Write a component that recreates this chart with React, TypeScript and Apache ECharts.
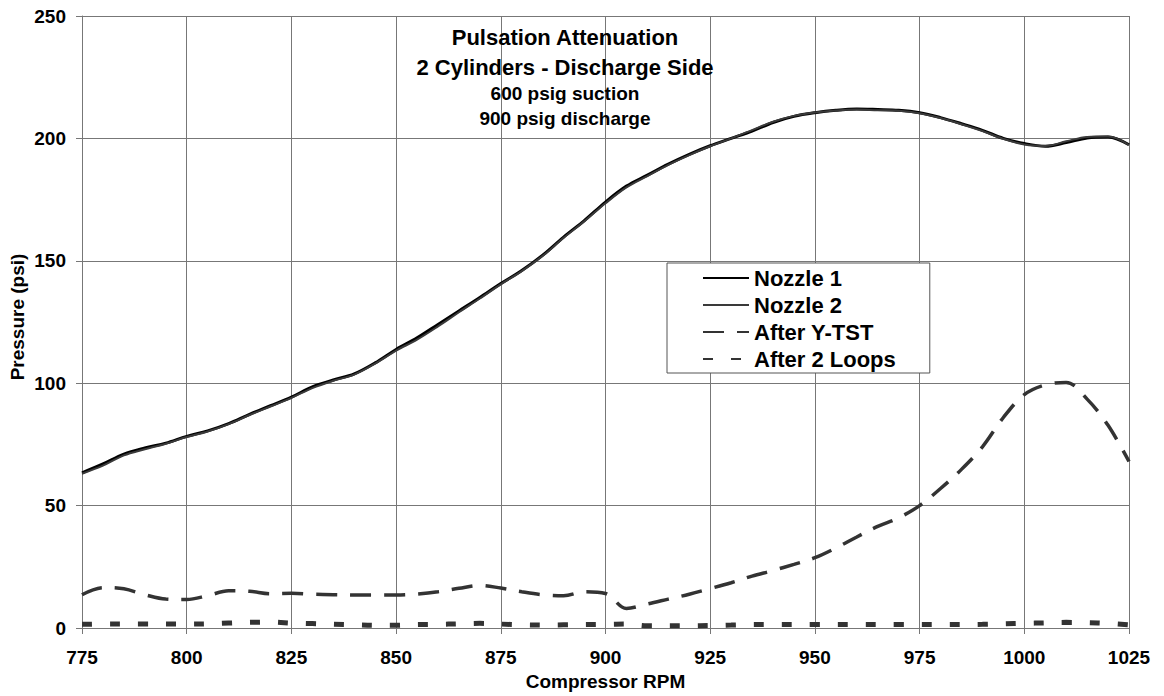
import React, { useEffect, useRef } from "react";
import * as echarts from "echarts";

const rpm = [775, 780, 785, 790, 795, 800, 805, 810, 815, 820, 825, 830, 835, 840, 845, 850, 855, 860, 865, 870, 875, 880, 885, 890, 895, 900, 905, 910, 915, 920, 925, 930, 935, 940, 945, 950, 955, 960, 965, 970, 975, 980, 985, 990, 995, 1000, 1005, 1010, 1015, 1020, 1025];

const nozzle1 = [63.4, 67, 71, 73.5, 75.5, 78.3, 80.5, 83.5, 87.3, 90.8, 94.3, 98.5, 101.3, 103.8, 108.3, 113.8, 118.5, 124, 129.5, 135, 140.7, 146, 152.3, 159.7, 166.5, 174, 180.5, 185, 189.5, 193.5, 197, 200, 203, 206.5, 209, 210.5, 211.5, 212, 211.8, 211.5, 210.5, 208.5, 206, 203.3, 200, 197.9, 196.8, 198.3, 200.2, 200.6, 197.4];

const nozzle2 = [63.0, 66.3, 70.5, 73.0, 75.3, 78.0, 80.3, 83.3, 87.0, 90.5, 94.0, 98.0, 101.0, 103.5, 108.0, 113.3, 117.8, 123.2, 129.0, 134.6, 140.4, 145.8, 152.0, 159.4, 166.2, 173.5, 180.0, 184.6, 189.2, 193.2, 196.8, 200.0, 203.4, 206.8, 209.2, 210.6, 211.4, 211.8, 211.5, 211.3, 210.3, 208.3, 205.8, 203.0, 199.8, 197.5, 196.9, 198.8, 200.6, 200.8, 197.3];

const afterYTST = [13.6, 16.5, 16, 13.6, 11.8, 11.6, 13.2, 15.2, 15, 14, 14.2, 13.8, 13.6, 13.5, 13.5, 13.5, 13.9, 14.8, 16.2, 17.4, 16.3, 14.8, 13.6, 13.2, 14.8, 14.1, 8.0, 9.8, 11.8, 13.8, 16.1, 18.5, 21.2, 23.5, 26, 28.7, 32.7, 37.2, 41.5, 45, 50, 57, 64.8, 74, 86, 95.3, 99.3, 100.3, 93.5, 82.8, 68];

const after2Loops = [1.5, 1.6, 1.6, 1.6, 1.6, 1.6, 1.7, 2.0, 2.3, 2.4, 2.0, 1.8, 1.5, 1.3, 1.1, 1.1, 1.4, 1.5, 1.7, 1.9, 1.6, 1.3, 1.2, 1.3, 1.4, 1.5, 1.6, 0.9, 0.9, 0.9, 1.0, 1.2, 1.4, 1.4, 1.4, 1.4, 1.4, 1.4, 1.4, 1.4, 1.4, 1.4, 1.4, 1.5, 1.7, 1.9, 2.1, 2.3, 2.2, 1.9, 1.3];

const seriesNames = ["Nozzle 1", "Nozzle 2", "After Y-TST", "After 2 Loops"];
const titleLines = ["Pulsation Attenuation", "2 Cylinders - Discharge Side", "600 psig suction", "900 psig discharge"];
const xTitle = "Compressor RPM";
const yTitle = "Pressure (psi)";

const FONT = "'Liberation Sans', Arial, sans-serif";

const pairs = (vals: number[]) => rpm.map((r, i) => [r, vals[i]]);

export default function App() {
  const ref = useRef<HTMLDivElement>(null);
  useEffect(() => {
    if (!ref.current) return;
    const chart = echarts.init(ref.current, undefined, { renderer: "svg" });
    const lineCommon = {
      type: "line",
      showSymbol: false,
      symbol: "none",
      smooth: 0.35,
    };
    chart.setOption({
      animation: false,
      backgroundColor: "#fff",
      grid: { left: 82, right: 35, top: 16, bottom: 66, containLabel: false },
      xAxis: {
        type: "value",
        min: 775,
        max: 1025,
        interval: 25,
        name: xTitle,
        nameLocation: "middle",
        nameGap: 44,
        nameTextStyle: { fontFamily: FONT, fontWeight: "bold", fontSize: 19, color: "#000" },
        axisLine: { show: true, lineStyle: { color: "#777", width: 1 } },
        axisTick: { show: true, length: 6, lineStyle: { color: "#777" } },
        axisLabel: {
          margin: 20,
          fontFamily: FONT,
          fontWeight: "bold",
          fontSize: 19,
          color: "#000",
          formatter: (v: number) => String(v),
        },
        splitLine: { show: true, lineStyle: { color: "#777", width: 1 } },
      },
      yAxis: {
        type: "value",
        min: 0,
        max: 250,
        interval: 50,
        axisLine: { show: true, lineStyle: { color: "#777", width: 1 } },
        axisTick: { show: true, length: 6, lineStyle: { color: "#777" } },
        axisLabel: {
          margin: 16,
          fontFamily: FONT,
          fontWeight: "bold",
          fontSize: 19,
          color: "#000",
          formatter: (v: number) => String(v),
        },
        splitLine: { show: true, lineStyle: { color: "#777", width: 1 } },
      },
      legend: {
        show: true,
        orient: "vertical",
        left: 667,
        top: 263,
        padding: [4, 34, 3, 35],
        itemGap: 5,
        itemWidth: 46,
        itemHeight: 14,
        backgroundColor: "#fff",
        borderColor: "#555",
        borderWidth: 1,
        borderRadius: 0,
        itemStyle: { opacity: 0 },
        textStyle: { fontFamily: FONT, fontWeight: "bold", fontSize: 22, color: "#000", lineHeight: 22 },
        data: seriesNames,
      },
      graphic: [
        ...titleLines.map((t, i) => ({
          type: "text",
          x: 565,
          y: [37.5, 67, 93, 118.5][i],
          z: 10,
          style: {
            text: t,
            fontFamily: FONT,
            fontWeight: "bold",
            fontSize: i < 2 ? 22 : 19,
            fill: "#000",
            textAlign: "center",
            textVerticalAlign: "middle",
          },
        })),
        {
          type: "text",
          x: 17.5,
          y: 317,
          rotation: Math.PI / 2,
          style: {
            text: yTitle,
            fontFamily: FONT,
            fontWeight: "bold",
            fontSize: 19,
            fill: "#000",
            textAlign: "center",
            textVerticalAlign: "middle",
          },
        },
      ],
      series: [
        {
          ...lineCommon,
          name: seriesNames[0],
          data: pairs(nozzle1),
          lineStyle: { color: "#000", width: 3 },
          itemStyle: { color: "#000" },
        },
        {
          ...lineCommon,
          name: seriesNames[1],
          data: pairs(nozzle2),
          lineStyle: { color: "#3a3a3a", width: 2 },
          itemStyle: { color: "#3a3a3a" },
        },
        {
          ...lineCommon,
          name: seriesNames[2],
          data: pairs(afterYTST),
          lineStyle: { color: "#333", width: 3.5, type: [21, 13] },
          itemStyle: { color: "#333" },
        },
        {
          ...lineCommon,
          name: seriesNames[3],
          data: pairs(after2Loops),
          lineStyle: { color: "#333", width: 5, type: [10, 18] },
          itemStyle: { color: "#333" },
        },
      ],
    });
    return () => chart.dispose();
  }, []);
  return (
    <div
      ref={ref}
      style={{ position: "fixed", left: 0, top: 0, width: 1164, height: 696 }}
    />
  );
}
